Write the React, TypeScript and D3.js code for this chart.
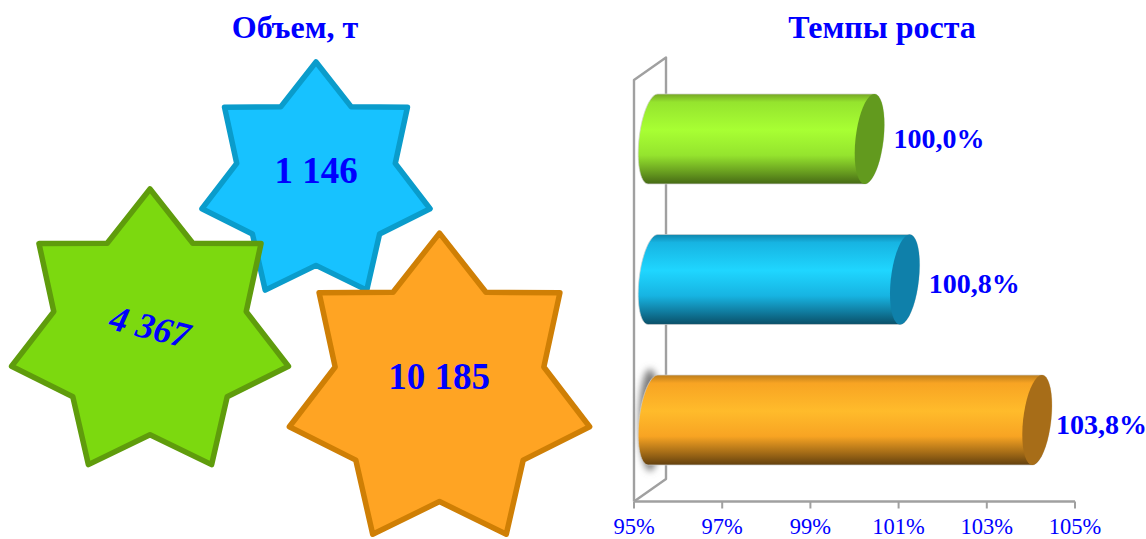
import React from "react";
import * as d3 from "d3";

const W = 1146, H = 539;
const volumeLabels = ["1 146", "4 367", "10 185"];
const volumeTitle = "Объем, т";
const growthTitle = "Темпы роста";
const growthCategories = ["green", "blue", "orange"];
const growthValues = [100.0, 100.8, 103.8];
const growthLabels = ["100,0%", "100,8%", "103,8%"];
const tickValues = [95, 97, 99, 101, 103, 105];
const tickLabels = ["95%", "97%", "99%", "101%", "103%", "105%"];

const starFill = ["#17c2ff", "#7cd90f", "#ffa423"];
const starStroke = ["#0a9ccb", "#5f9c0c", "#cf7f05"];
const starCx = [316, 150, 439.5];
const starCy = [182, 334, 391.5];
const starRx = [117, 142, 154];
const starRy = [120, 145, 158.4];
const labelX = [316, 150, 439];
const labelY = [170, 327, 376];
const labelRot = [0, 14, 0];
const labelSize = [37, 36, 37];

const barTop = ["#76a624", "#0f86ad", "#bd7d1b"];
const barMid = ["#a8ff33", "#1fd6ff", "#ffbb2b"];
const barLow = ["#95e42e", "#17b4e2", "#f8a423"];
const barBottom = ["#466a15", "#0a4f68", "#63400e"];
const capFill = ["#629a1e", "#0f80aa", "#a76d18"];
const valueLabelDy = [9.5, 13.5, 14];

function starPath(cx: number, cy: number, rx: number, ry: number) {
  const pts: [number, number][] = [];
  for (let i = 0; i < 14; i++) {
    const a = (i * Math.PI) / 7;
    const k = i % 2 === 0 ? 1 : 0.695;
    pts.push([cx + rx * k * Math.sin(a), cy - ry * k * Math.cos(a)]);
  }
  return d3.line().curve(d3.curveLinearClosed)(pts) as string;
}

export default function App() {
  const x = d3.scaleLinear().domain([95, 105]).range([634, 1075]);
  const y = d3.scaleBand().domain(growthCategories).range([94, 465]).paddingInner(0.36).paddingOuter(0);
  const depthLeft = 19;
  const depthRight = 15;
  const axisY = 501.5;
  const wallDx = 32, wallDy = 22.5;
  const wallTop = 80;
  const serif = "'Liberation Serif', serif";
  const bw = y.bandwidth();
  const capA = 14, shear = 4.8;
  const axisColor = "#a0a0a0";
  return (
    <svg width={W} height={H} style={{ position: "absolute", left: 0, top: 0 }}>
      <defs>
        {growthCategories.map((c, i) => (
          <linearGradient key={c} id={`g${i}`} x1="0" y1="0" x2="0" y2="1">
            <stop offset="0" stopColor={barTop[i]} />
            <stop offset="0.09" stopColor={barLow[i]} />
            <stop offset="0.4" stopColor={barMid[i]} />
            <stop offset="0.68" stopColor={barLow[i]} />
            <stop offset="0.86" stopColor={d3.interpolateRgb(barLow[i], barBottom[i])(0.55)} />
            <stop offset="1" stopColor={barBottom[i]} />
          </linearGradient>
        ))}
        <filter id="blur" x="-100%" y="-20%" width="300%" height="140%">
          <feGaussianBlur stdDeviation="3.5" />
        </filter>
      </defs>
      <text x={295} y={38} textAnchor="middle" fontFamily={serif} fontWeight="bold" fontSize={32} fill="#0000ff">{volumeTitle}</text>
      <text x={882} y={38} textAnchor="middle" fontFamily={serif} fontWeight="bold" fontSize={32} fill="#0000ff">{growthTitle}</text>

      {[0, 1, 2].map((i) => (
        <path key={i} d={starPath(starCx[i], starCy[i], starRx[i], starRy[i])} fill={starFill[i]} stroke={starStroke[i]} strokeWidth={5.5} strokeLinejoin="round" />
      ))}
      {volumeLabels.map((t, i) => (
        <text key={t} transform={`translate(${labelX[i]},${labelY[i]}) rotate(${labelRot[i]})`} textAnchor="middle" dominantBaseline="central"
          fontFamily={serif} fontWeight="bold" fontSize={labelSize[i]} fontStyle={i === 1 ? "italic" : "normal"} fill="#0000ff">{t}</text>
      ))}

      <path d={`M${x(95)},${axisY}V${wallTop}L${x(95) + wallDx},${wallTop - wallDy}V${axisY - wallDy}L${x(95)},${axisY}`} fill="none" stroke={axisColor} strokeWidth={2.4} strokeLinejoin="round" />
      <path d={`M${x(95)},${axisY}H${x(105)}`} stroke={axisColor} strokeWidth={2.4} />
      {tickValues.map((t, i) => (
        <g key={t}>
          <line x1={x(t)} x2={x(t)} y1={axisY} y2={axisY + 7} stroke={axisColor} strokeWidth={2} />
          <text x={x(t)} y={534} textAnchor="middle" fontFamily={serif} fontSize={22.5} fill="#0000ff">{tickLabels[i]}</text>
        </g>
      ))}

      <ellipse cx={650} cy={y("orange")! + bw / 2} rx={11} ry={bw / 2 + 6} fill="#7a7a7a" filter="url(#blur)" />

      {growthCategories.map((c, i) => {
        const top = y(c)!;
        const cy = top + bw / 2;
        const x0 = x(95) + depthLeft;
        const x1 = x(growthValues[i]) + depthRight;
        const sheared = (cx: number, fromT: number, toT: number) => {
          const pts: string[] = [];
          for (const t of d3.range(0, 41)) {
            const a = fromT + ((toT - fromT) * t) / 40;
            const sy = Math.sin(a);
            pts.push(`${cx + capA * Math.cos(a) - shear * sy},${cy + (bw / 2) * sy}`);
          }
          return pts;
        };
        const leftArc = sheared(x0, -Math.PI / 2, -Math.PI * 1.5);
        const rightArc = sheared(x1, Math.PI / 2, -Math.PI / 2);
        const body = `M${leftArc.join("L")}L${rightArc.join("L")}Z`;
        const cap = `M${sheared(x1, 0, Math.PI * 2).join("L")}Z`;
        return (
          <g key={c}>
            <path d={body} fill={`url(#g${i})`} stroke="#d0d0d0" strokeWidth={0.7} />
            <path d={cap} fill={capFill[i]} />
            <text x={Math.min(x1 + 24, 1056)} y={cy + valueLabelDy[i]} fontFamily={serif} fontWeight="bold" fontSize={28} fill="#0000ff">{growthLabels[i]}</text>
          </g>
        );
      })}
    </svg>
  );
}
